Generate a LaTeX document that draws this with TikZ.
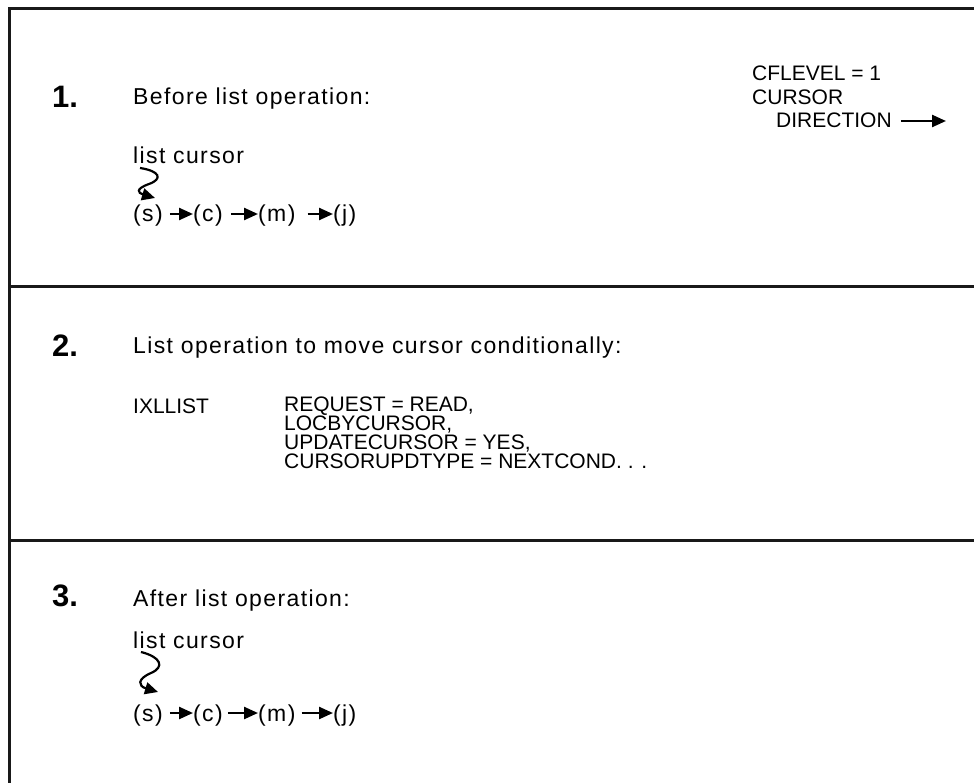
\documentclass[tikz,border=0pt]{standalone}
\usepackage{fontspec}
\setmainfont{Liberation Sans}
\newfontfamily\prose[LetterSpace=6]{Liberation Sans}
\usetikzlibrary{arrows.meta}
\tikzset{
  frame/.style={line width=3pt, draw=black!90},
  num/.style={anchor=base west, inner sep=0pt, font=\fontsize{31}{34}\selectfont\bfseries},
  txt/.style={anchor=base west, inner sep=0pt, font=\prose\fontsize{23}{26}\selectfont},
  caps/.style={anchor=base west, inner sep=0pt, font=\fontsize{21}{24}\selectfont},
  code/.style={anchor=base west, inner sep=0pt, align=left, font=\fontsize{21}{19}\selectfont},
  arr/.style={line width=2.4pt, -{Triangle[length=14pt,width=12pt]}},
  squig/.style={line width=2.2pt, -{Triangle[length=13pt,width=12pt]}}
}
\begin{document}
\begin{tikzpicture}[x=1pt,y=-1pt]
\useasboundingbox (0,0) rectangle (974,783);
% frame
\draw[frame] (9,783) -- (9,9) -- (974,9);
\draw[frame] (9,287) -- (974,287);
\draw[frame] (9,540) -- (974,540);

% panel 1
\node[num] (n1) at (52,108) {1.};
\node[txt] (t1) at (133,105) {Before list operation:};
\node[caps] (cf) at (752,81) {CFLEVEL = 1};
\node[caps] (cu) at (752,105) {CURSOR};
\node[caps] (di) at (776,128) {DIRECTION};
\coordinate (da) at ([xshift=9pt]di.east |- 0,121);
\coordinate (db) at (946,121);
\draw[arr] (da) -- (db);
\node[txt] (lc1) at (133,164) {list cursor};
\node[txt] (s1) at (133,222) {(s)};
\node[txt] (c1) at (193,222) {(c)};
\node[txt] (m1) at (258,222) {(m)};
\node[txt] (j1) at (333,222) {(j)};
\draw[arr] ([xshift=7pt]s1.east |- 0,214) -- (c1.west |- 0,214);
\draw[arr] ([xshift=8pt]c1.east |- 0,214) -- (m1.west |- 0,214);
\draw[arr] ([xshift=12pt]m1.east |- 0,214) -- (j1.west |- 0,214);
\coordinate (q1) at (140,168);
\coordinate (p1) at (155,198);
\draw[squig] (q1) .. controls (160,171) and (163,179) .. (149,184) .. controls (135,189) and (138,193) .. (p1);

% panel 2
\node[num] (n2) at (52,356) {2.};
\node[txt] (t2) at (133,353) {List operation to move cursor conditionally:};
\node[code] (ix) at (133,413) {IXLLIST};
\node[code] (params) at (284,468) {REQUEST = READ,\\LOCBYCURSOR,\\UPDATECURSOR = YES,\\CURSORUPDTYPE = NEXTCOND. . .};

% panel 3
\node[num] (n3) at (52,606) {3.};
\node[txt] (t3) at (133,606) {After list operation:};
\node[txt] (lc3) at (133,648) {list cursor};
\node[txt] (s3) at (133,721) {(s)};
\node[txt] (c3) at (193,721) {(c)};
\node[txt] (m3) at (258,721) {(m)};
\node[txt] (j3) at (333,721) {(j)};
\draw[arr] ([xshift=7pt]s3.east |- 0,713) -- (c3.west |- 0,713);
\draw[arr] ([xshift=5pt]c3.east |- 0,713) -- (m3.west |- 0,713);
\draw[arr] ([xshift=6pt]m3.east |- 0,713) -- (j3.west |- 0,713);
\coordinate (q3) at (141,652);
\coordinate (p3) at (158,692);
\draw[squig] (q3) .. controls (161,657) and (165,667) .. (151,673) .. controls (137,679) and (138,686) .. (p3);
\end{tikzpicture}
\end{document}
